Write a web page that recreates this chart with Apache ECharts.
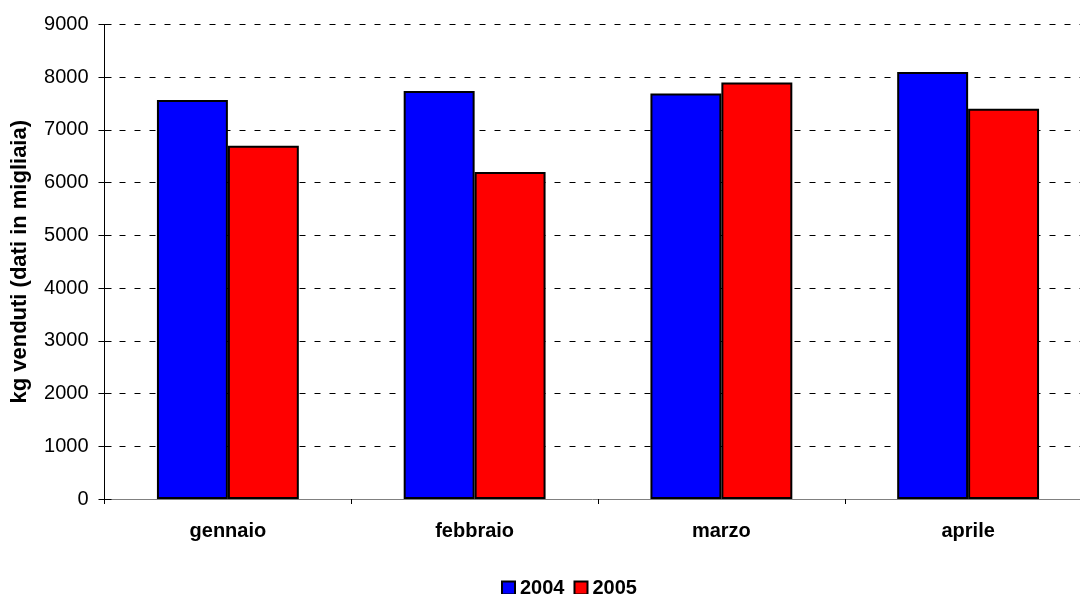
<!DOCTYPE html>
<html><head><meta charset="utf-8">
<script src="https://cdn.jsdelivr.net/npm/echarts@6/dist/echarts.min.js"></script>
<style>html,body{margin:0;padding:0;background:#fff;}#c{width:1080px;height:594px;}</style>
</head><body><div id="c"></div>
<script>
const categories = ['gennaio', 'febbraio', 'marzo', 'aprile'];
const seriesNames = ['2004', '2005'];
const values2004 = [7570, 7740, 7690, 8100];
const values2005 = [6700, 6200, 7900, 7400];
const yTicks = [0, 1000, 2000, 3000, 4000, 5000, 6000, 7000, 8000, 9000];

const font = 'Liberation Sans, Arial, sans-serif';
const chart = echarts.init(document.getElementById('c'));
const barStyle = (c) => ({ color: c, borderColor: '#000', borderWidth: 2 });
chart.setOption({
  animation: false,
  textStyle: { fontFamily: font },
  grid: { left: 104.5, width: 987, top: 24.5, height: 474.5, containLabel: false, outerBoundsMode: 'none' },
  legend: {
    data: seriesNames, bottom: -9, left: 496, itemWidth: 13, itemHeight: 13, itemGap: 9,
    icon: 'rect',
    textStyle: { fontFamily: font, fontSize: 20, fontWeight: 'bold', color: '#000', padding: [0, 0, 0, 0] }
  },
  xAxis: {
    type: 'category', data: categories,
    axisLine: { lineStyle: { color: '#808080', width: 1 } },
    axisTick: { show: true, length: 5, lineStyle: { color: '#000' } },
    axisLabel: { fontFamily: font, fontSize: 20, fontWeight: 'bold', color: '#000', margin: 22 }
  },
  yAxis: [{
    type: 'value', min: yTicks[0], max: yTicks[yTicks.length - 1], interval: 1000,
    name: 'kg venduti (dati in migliaia)', nameLocation: 'middle', nameGap: 74,
    nameTextStyle: { fontFamily: font, fontSize: 22, fontWeight: 'bold', color: '#000' },
    axisLine: { show: true, lineStyle: { color: '#000' } },
    axisTick: { show: true, length: 6, lineStyle: { color: '#000' } },
    axisLabel: { fontFamily: font, fontSize: 20, color: '#000', margin: 16, formatter: (v) => String(v) },
    splitLine: { show: true, lineStyle: { color: '#000', type: [6, 9], width: 1 } }
  }, {
    type: 'value', position: 'left', min: yTicks[0], max: yTicks[yTicks.length - 1], interval: 1000,
    axisLine: { show: false }, axisLabel: { show: false }, splitLine: { show: false },
    axisTick: { show: true, inside: true, length: 7, lineStyle: { color: '#000' } }
  }],
  series: [
    { name: seriesNames[0], type: 'bar', data: values2004, barGap: '0%', barCategoryGap: '42.5%', itemStyle: barStyle('#0000FF') },
    { name: seriesNames[1], type: 'bar', data: values2005, itemStyle: barStyle('#FF0000') }
  ]
});
</script></body></html>
